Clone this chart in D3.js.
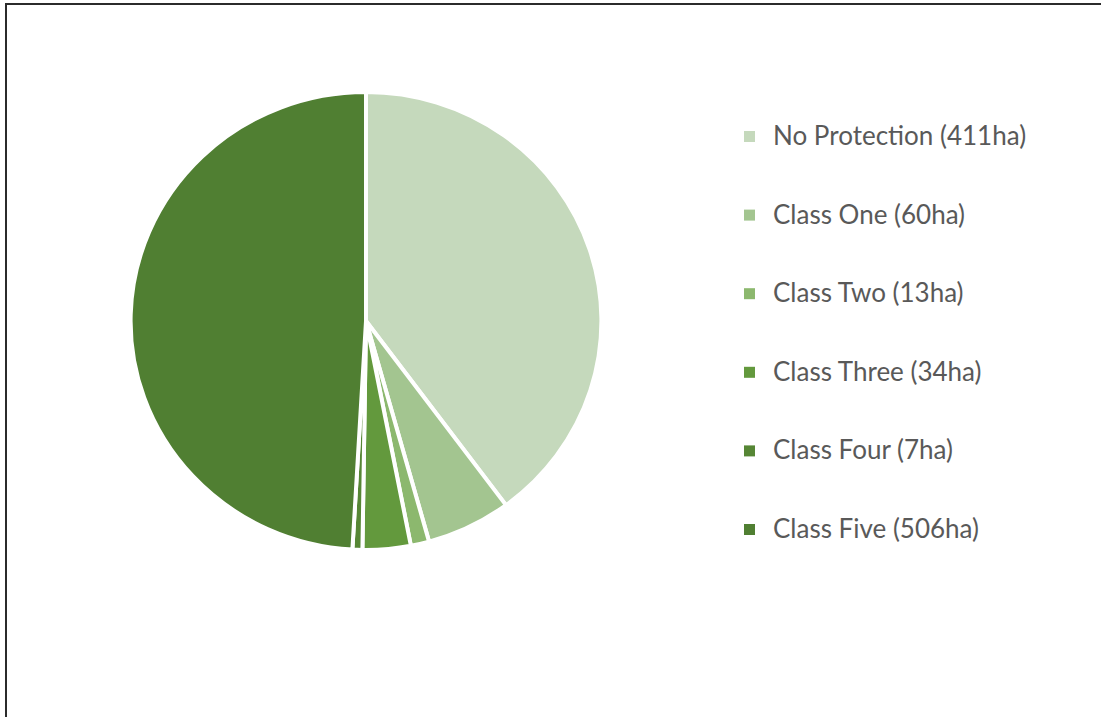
<!DOCTYPE html>
<html>
<head>
<meta charset="utf-8">
<script src="https://cdn.jsdelivr.net/npm/d3@7"></script>
<style>
  html, body { margin: 0; padding: 0; background: #ffffff; }
  svg { display: block; }
</style>
</head>
<body>
<svg id="chart" width="1101" height="717"></svg>
<script>
// Protected area by class (hectares)
const categories = ["No Protection", "Class One", "Class Two", "Class Three", "Class Four", "Class Five"];
const hectares = [411, 60, 13, 34, 7, 506];
const legendLabels = ["No Protection (411ha)", "Class One (60ha)", "Class Two (13ha)", "Class Three (34ha)", "Class Four (7ha)", "Class Five (506ha)"];
const palette = ["#c5d9bc", "#a3c590", "#8cb86e", "#63993d", "#568635", "#507f32"];

const svg = d3.select("#chart");

// Chart frame (runs past the right and bottom edges)
svg.append("rect")
  .attr("x", 6).attr("y", 4)
  .attr("width", 1200).attr("height", 900)
  .attr("fill", "none")
  .attr("stroke", "#2b2b2b")
  .attr("stroke-width", 2);

const data = categories.map((c, i) => ({ name: c, value: hectares[i], label: legendLabels[i] }));

const color = d3.scaleOrdinal().domain(categories).range(palette);

const pie = d3.pie().value(d => d.value).sort(null).startAngle(0).endAngle(2 * Math.PI);
const radius = 229;
const arc = d3.arc().innerRadius(0).outerRadius(radius);

const pieG = svg.append("g")
  .attr("transform", "translate(366,321) scale(1.028,1)");

pieG.selectAll("path")
  .data(pie(data))
  .join("path")
  .attr("d", arc)
  .attr("fill", d => color(d.data.name))
  .attr("stroke", "#ffffff")
  .attr("stroke-width", 4)
  .attr("vector-effect", "non-scaling-stroke")
  .attr("stroke-linejoin", "round");

// Legend
const rowY = d3.scalePoint().domain(categories).range([136.5, 529.5]);

const legend = svg.append("g");
const item = legend.selectAll("g")
  .data(data)
  .join("g")
  .attr("transform", d => `translate(744,${rowY(d.name)})`);

item.append("rect")
  .attr("x", 0).attr("y", -5.5)
  .attr("width", 11).attr("height", 11)
  .attr("fill", d => color(d.name));

item.append("text")
  .attr("x", 29).attr("y", 8.5)
  .attr("font-family", "Lato, 'Open Sans', sans-serif")
  .attr("font-size", 26)
  .attr("fill", "#595959")
  .text(d => d.label);
</script>
</body>
</html>
